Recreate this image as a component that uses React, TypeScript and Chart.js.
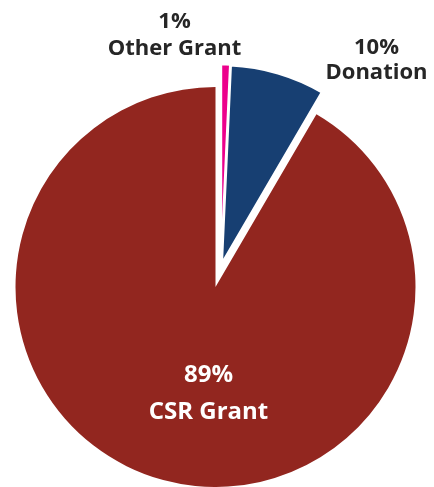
import React, { useEffect, useRef } from "react";
import { Chart, registerables } from "chart.js";
Chart.register(...registerables);

const categories = ["Other Grant", "Donation", "CSR Grant"];
const shares = [0.72, 7.7, 91.58];
const percentLabels = ["1%", "10%", "89%"];
const colors = ["#EC008C", "#173F72", "#92261F"];

// explosion of slices: distance (px) and direction (degrees clockwise from 12 o'clock)
const explodeDistance = [23, 23, 0];
const explodeDirection = [15, 15, 0];
const sliceBorder = [1.5, 3, 0];

// label anchor relative to pie centre, in units of the radius
const labelAnchors = [
  [-0.205, -1.26],
  [0.805, -1.135],
  [-0.035, 0.535],
];
const labelColors = ["#262626", "#262626", "#FFFFFF"];
const labelFonts = ["bold 22px 'Open Sans'", "bold 22px 'Open Sans'", "bold 24px 'Open Sans'"];
const labelLineGap = [27, 25, 37];

const explodePlugin = {
  id: "explodeSlices",
  afterDatasetUpdate(chart: any, args: any) {
    const { left, right, top, bottom } = chart.chartArea;
    const cx = (left + right) / 2;
    const cy = (top + bottom) / 2;
    args.meta.data.forEach((arc: any, i: number) => {
      const a = (explodeDirection[i] * Math.PI) / 180;
      arc.x = cx + Math.sin(a) * explodeDistance[i];
      arc.y = cy - Math.cos(a) * explodeDistance[i];
    });
  },
};

const labelPlugin = {
  id: "sliceLabels",
  afterDatasetsDraw(chart: any) {
    const meta = chart.getDatasetMeta(0);
    const ctx = chart.ctx;
    const { left, right, top, bottom } = chart.chartArea;
    const x = (left + right) / 2;
    const y = (top + bottom) / 2;
    ctx.save();
    ctx.textAlign = "center";
    ctx.textBaseline = "middle";
    meta.data.forEach((arc: any, i: number) => {
      const r = arc.outerRadius;
      const cx = x + labelAnchors[i][0] * r;
      const cy = y + labelAnchors[i][1] * r;
      const gap = labelLineGap[i];
      ctx.font = labelFonts[i];
      ctx.fillStyle = labelColors[i];
      ctx.fillText(percentLabels[i], cx, cy - gap / 2);
      ctx.fillText(categories[i], cx, cy + gap / 2);
    });
    ctx.restore();
  },
};

export default function App() {
  const ref = useRef<HTMLCanvasElement>(null);
  useEffect(() => {
    if (!ref.current) return;
    const chart = new Chart(ref.current, {
      type: "pie",
      data: {
        labels: categories,
        datasets: [
          {
            data: shares,
            backgroundColor: colors,
            borderColor: "#FFFFFF",
            borderWidth: sliceBorder,
          } as any,
        ],
      },
      options: {
        responsive: false,
        animation: false,
        radius: 200,
        layout: { padding: { left: 0, right: 3, top: 87, bottom: 0 } },
        plugins: { legend: { display: false }, tooltip: { enabled: false } },
      } as any,
      plugins: [explodePlugin, labelPlugin],
    });
    return () => chart.destroy();
  }, []);
  return (
    <canvas
      ref={ref}
      width={434}
      height={487}
      style={{ position: "fixed", left: 0, top: 0, display: "block" }}
    />
  );
}
